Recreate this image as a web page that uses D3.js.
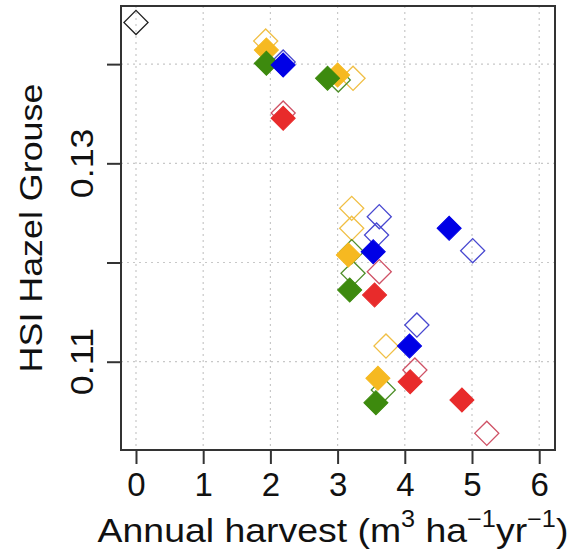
<!DOCTYPE html>
<html>
<meta charset="utf-8">
<style>
  body { margin: 0; background: #fff; }
  text { font-family: "Liberation Sans", Arial, sans-serif; fill: #111; }
</style>
<script src="https://d3js.org/d3.v7.min.js"></script>
<body>
<script>
var svgWidth = 570, svgHeight = 549;

// tick labels
var xTicks = [0, 1, 2, 3, 4, 5, 6];
var yTicks = [0.11, 0.12, 0.13, 0.14];
var yTickLabels = ["0.11", "", "0.13", ""];

// series: [harvest, HSI]
var refOpen = [[0, 0.1442]];

var orangeOpen = [[1.93, 0.14233], [3.23, 0.13857], [3.21, 0.12546], [3.21, 0.12345], [3.72, 0.11158]];
var greenOpen  = [[3.01, 0.1384], [3.21, 0.12109], [3.23, 0.11891], [3.68, 0.10715]];
var blueOpen   = [[2.19, 0.14021], [3.62, 0.12462], [3.58, 0.12277], [5.01, 0.12119], [4.18, 0.1137]];
var redOpen    = [[2.19, 0.13507], [3.62, 0.11907], [4.15, 0.10916], [5.22, 0.10278]];

var orangeFilled = [[1.94, 0.14142], [3.00, 0.1389], [3.16, 0.12076], [3.60, 0.10833]];
var greenFilled  = [[1.94, 0.14008], [2.85, 0.13857], [3.18, 0.11723], [3.57, 0.10587]];
var blueFilled   = [[2.19, 0.13991], [3.53, 0.12109], [4.66, 0.12345], [4.07, 0.11158]];
var redFilled    = [[2.19, 0.13454], [3.55, 0.11672], [4.08, 0.10798], [4.85, 0.10614]];

var layers = [
  { pts: refOpen,     fill: "none", stroke: "#222" },
  { pts: orangeOpen,  fill: "none", stroke: "#f0bf45" },
  { pts: greenOpen,   fill: "none", stroke: "#4f8f2a" },
  { pts: blueOpen,    fill: "none", stroke: "#4848d0" },
  { pts: redOpen,     fill: "none", stroke: "#cf5266" },
  { pts: orangeFilled, fill: "#f6b921", stroke: "#f6b921" },
  { pts: greenFilled,  fill: "#3d8a0e", stroke: "#3d8a0e" },
  { pts: blueFilled,   fill: "#0000e6", stroke: "#0000e6" },
  { pts: redFilled,    fill: "#e82b2b", stroke: "#e82b2b" }
];

var pLeft = 121, pRight = 555, pTop = 6, pBottom = 450;

var svg = d3.select("body")
  .append("svg")
  .attr("width", svgWidth)
  .attr("height", svgHeight);

var x = d3.scaleLinear()
  .domain([-0.223, 6.235])
  .range([pLeft, pRight]);

var y = d3.scaleLinear()
  .domain([0.10110, 0.14586])
  .range([pBottom, pTop]);

// grid
svg.append("g").selectAll("line")
  .data(xTicks).enter().append("line")
  .attr("x1", function(d) { return x(d); })
  .attr("x2", function(d) { return x(d); })
  .attr("y1", pTop).attr("y2", pBottom)
  .attr("stroke", "#c8c8c8")
  .attr("stroke-width", 1.2)
  .attr("stroke-dasharray", "2,4");

svg.append("g").selectAll("line")
  .data(yTicks).enter().append("line")
  .attr("y1", function(d) { return y(d); })
  .attr("y2", function(d) { return y(d); })
  .attr("x1", pLeft).attr("x2", pRight)
  .attr("stroke", "#c8c8c8")
  .attr("stroke-width", 1.2)
  .attr("stroke-dasharray", "2,4");

// points
var diamond = d3.symbol().type(d3.symbolSquare).size(290);

layers.forEach(function(layer) {
  svg.append("g").selectAll("path")
    .data(layer.pts).enter().append("path")
    .attr("d", diamond)
    .attr("transform", function(d) {
      return "translate(" + x(d[0]) + "," + y(d[1]) + ") rotate(45)";
    })
    .attr("fill", layer.fill)
    .attr("stroke", layer.stroke)
    .attr("stroke-width", layer.fill == "none" ? 1.3 : 1);
});

// box
svg.append("rect")
  .attr("x", pLeft).attr("y", pTop)
  .attr("width", pRight - pLeft).attr("height", pBottom - pTop)
  .attr("fill", "none")
  .attr("stroke", "#333")
  .attr("stroke-width", 2);

// axes
var xAxis = svg.append("g")
  .attr("transform", "translate(0," + pBottom + ")")
  .call(d3.axisBottom(x).tickValues(xTicks).tickSize(14).tickPadding(9).tickFormat(d3.format("d")));
xAxis.select(".domain").remove();
xAxis.selectAll("line").attr("stroke", "#333").attr("stroke-width", 2);
xAxis.selectAll("text").attr("font-size", 33).attr("fill", "#111").attr("font-family", null);

var yAxis = svg.append("g")
  .attr("transform", "translate(" + pLeft + ",0)")
  .call(d3.axisLeft(y).tickValues(yTicks).tickSize(14).tickFormat(""));
yAxis.select(".domain").remove();
yAxis.selectAll("line").attr("stroke", "#333").attr("stroke-width", 2);

svg.append("g").selectAll("text")
  .data(yTicks).enter().append("text")
  .attr("transform", function(d) { return "translate(93," + y(d) + ") rotate(-90) scale(1.12,1)"; })
  .attr("text-anchor", "middle")
  .attr("font-size", 32)
  .text(function(d, i) { return yTickLabels[i]; });

// axis titles
svg.append("text")
  .attr("transform", "translate(42," + ((pTop + pBottom) / 2) + ") rotate(-90) scale(1.12,1)")
  .attr("text-anchor", "middle")
  .attr("font-size", 32)
  .text("HSI Hazel Grouse");

var xl = svg.append("text")
  .attr("transform", "translate(333,542) scale(1.1,1)")
  .attr("text-anchor", "middle")
  .attr("font-size", 34);
xl.append("tspan").text("Annual harvest (m");
xl.append("tspan").attr("dy", -15).attr("font-size", 23).text("3");
xl.append("tspan").attr("dy", 15).text(" ha");
xl.append("tspan").attr("dy", -15).attr("font-size", 23).text("\u22121");
xl.append("tspan").attr("dy", 15).text("yr");
xl.append("tspan").attr("dy", -15).attr("font-size", 23).text("\u22121");
xl.append("tspan").attr("dy", 15).text(")");
</script>
</body>
</html>
